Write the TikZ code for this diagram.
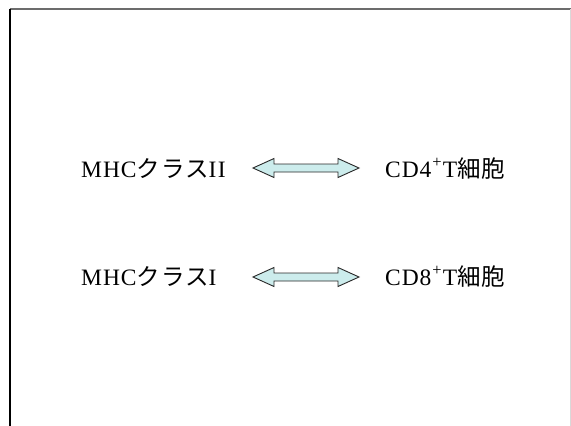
\documentclass[tikz,border=0pt]{standalone}
\usepackage{fontspec}
\setmainfont{Liberation Serif}[LetterSpace=4]
\newfontfamily\jpfont{Noto Sans CJK JP}[LetterSpace=4]
\definecolor{arrowfill}{RGB}{204,236,236}
\definecolor{arrowline}{RGB}{40,40,40}
\begin{document}
\begin{tikzpicture}[x=1pt,y=-1pt,
  lbl/.style={anchor=base west,inner sep=0pt,font=\fontsize{23.5}{28}\selectfont},
  blockarrow/.style={draw=arrowline,line width=0.9pt,fill=arrowfill,line join=miter}]
\useasboundingbox (0,0) rectangle (571,426);
\fill[white] (0,0) rectangle (571,426);
% frame
\draw[gray!85!black,line width=1.6pt] (9.5,9) -- (571,9);
\draw[black,line width=1.3pt] (10,9) -- (10,426);
\draw[gray!30,line width=1pt] (570,9) -- (570,426);
% row 1
\node[lbl] (m2) at (81,177) {MHC{\jpfont クラス}I\kern1.5ptI};
\node[lbl] (c4) at (385,177) {CD4\kern1pt\textsuperscript{+}\kern0.5ptT{\jpfont 細胞}};
\coordinate (a1) at (306,168);
\draw[blockarrow] ([xshift=-53pt]a1) -- ++(21,-9.5) -- ++(0,5.5) -- ++(64,0) -- ++(0,-5.5)
  -- ++(21,9.5) -- ++(-21,9.5) -- ++(0,-5.5) -- ++(-64,0) -- ++(0,5.5) -- cycle;
% row 2
\node[lbl] (m1) at (81,285) {MHC{\jpfont クラス}I};
\node[lbl] (c8) at (385,285) {CD8\kern1pt\textsuperscript{+}\kern0.5ptT{\jpfont 細胞}};
\coordinate (a2) at (306,277);
\draw[blockarrow] ([xshift=-53pt]a2) -- ++(21,-9.5) -- ++(0,5.5) -- ++(64,0) -- ++(0,-5.5)
  -- ++(21,9.5) -- ++(-21,9.5) -- ++(0,-5.5) -- ++(-64,0) -- ++(0,5.5) -- cycle;
\end{tikzpicture}
\end{document}
